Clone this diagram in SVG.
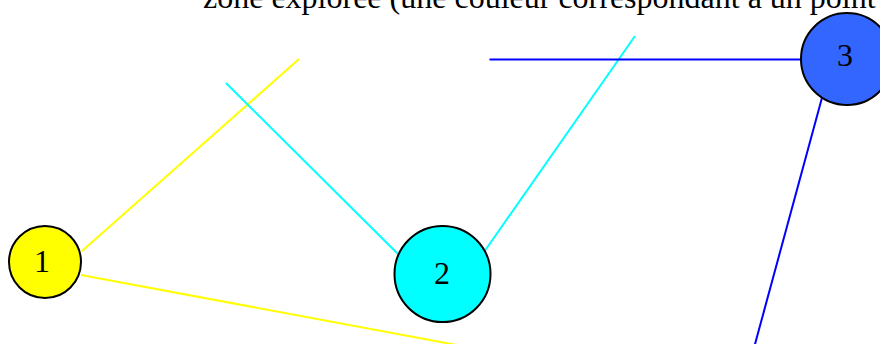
<svg xmlns="http://www.w3.org/2000/svg" width="880" height="344" viewBox="0 0 880 344">
<style>
.t{font-family:"Liberation Serif","Times New Roman",serif;font-size:32px;fill:#000}
.n{stroke:#000;stroke-width:2}
.e{stroke-width:2;fill:none}
</style>
<rect width="880" height="344" fill="#fff"/>
<text class="t" x="203" y="8">zone explorée (une couleur correspondant à un point</text>
<g id="connectors">
<line class="e" stroke="#ffff00" x1="82" y1="251" x2="299" y2="59"/>
<line class="e" stroke="#ffff00" x1="81" y1="275" x2="462" y2="346"/>
<line class="e" stroke="#00ffff" x1="226" y1="83" x2="399" y2="255"/>
<line class="e" stroke="#00ffff" x1="484" y1="252" x2="635" y2="36"/>
<line class="e" stroke="#0000ff" x1="489.5" y1="59.5" x2="802" y2="59.5"/>
<line class="e" stroke="#0000ff" x1="826" y1="83" x2="754.5" y2="346"/>
</g>
<g id="node1">
<circle class="n" cx="45" cy="262" r="36" fill="#ffff00"/>
<text class="t" x="42" y="272" text-anchor="middle">1</text>
</g>
<g id="node2">
<circle class="n" cx="442.5" cy="274" r="48" fill="#00ffff"/>
<text class="t" x="442" y="284" text-anchor="middle">2</text>
</g>
<g id="node3">
<circle class="n" cx="847" cy="59" r="46" fill="#3366ff"/>
<text class="t" x="845" y="66" text-anchor="middle">3</text>
</g>
</svg>
